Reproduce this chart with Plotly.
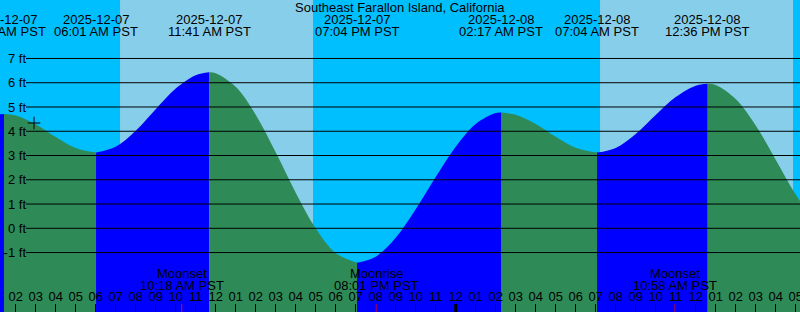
import plotly.graph_objects as go
from datetime import datetime, timedelta

station = "Southeast Farallon Island, California"

# Tide extremes (PST)
extreme_times = ["2025-12-07 01:25", "2025-12-07 06:01", "2025-12-07 11:41", "2025-12-07 19:04",
                 "2025-12-08 02:17", "2025-12-08 07:04", "2025-12-08 12:36"]
extreme_ft = [4.71, 3.12, 6.43, -1.42, 4.77, 3.12, 5.96]

# Hourly readings of the tide curve, 2025-12-07 01:00 ... 2025-12-08 18:00
sample_start = "2025-12-07 01:00"
sample_ft = [4.69, 4.65, 4.29, 3.76, 3.31, 3.12, 3.36, 4.02, 4.91, 5.76, 6.31,
             6.39, 5.83, 4.68, 3.13, 1.47, 0.00, -1.02, -1.42, -1.17, -0.39, 0.78,
             2.11, 3.36, 4.30, 4.75, 4.68, 4.30, 3.77, 3.32, 3.12, 3.31, 3.89,
             4.67, 5.41, 5.88, 5.91, 5.33, 4.24, 2.83, 1.39, 0.21]

# Sun and moon
sunrise_times = ["2025-12-07 07:13", "2025-12-08 07:13"]
sunset_times = ["2025-12-07 16:52", "2025-12-08 16:52"]
moon_events = ["Moonset", "Moonrise", "Moonset"]
moon_times = ["2025-12-07 10:18", "2025-12-07 20:01", "2025-12-08 10:58"]

# Current time marker
now_time = "2025-12-07 02:55"
now_ft = 4.34

# Axis settings
height_ticks = [-1, 0, 1, 2, 3, 4, 5, 6, 7]
view_start = "2025-12-07 01:12:54"
view_end = "2025-12-08 17:12:54"
first_hour_tick = "2025-12-07 02:00"
last_hour_tick = "2025-12-08 17:00"
y_range = [-3.45, 9.41]

NIGHT = "#00BFFF"
DAY = "#87CEEB"
RISING = "#0000FF"
FALLING = "#2E8B57"
FONT = "Liberation Sans, Arial, sans-serif"


def P(s):
    fmt = "%Y-%m-%d %H:%M" if s.count(":") == 1 else "%Y-%m-%d %H:%M:%S"
    return datetime.strptime(s, fmt)


ext_t = [P(s) for s in extreme_times]
t0 = P(sample_start)
samp_t = [t0 + timedelta(hours=i) for i in range(len(sample_ft))]

fig = go.Figure()

# Build segments between extremes (plus head and tail)
bounds = [samp_t[0]] + ext_t + [samp_t[-1]]


def value_at_bound(i):
    if i == 0:
        return sample_ft[0]
    if i == len(bounds) - 1:
        return sample_ft[-1]
    return extreme_ft[i - 1]


gap = timedelta(minutes=9)
for i in range(len(bounds) - 1):
    a, b = bounds[i], bounds[i + 1]
    va, vb = value_at_bound(i), value_at_bound(i + 1)
    xs, ys = [a], [va]
    for t, v in zip(samp_t, sample_ft):
        if a + gap < t < b - gap:
            xs.append(t)
            ys.append(v)
    xs.append(b)
    ys.append(vb)
    if i == 0:
        rising = True  # rising into the first high
    elif i == len(bounds) - 2:
        rising = sample_ft[-1] > extreme_ft[-1]
    else:
        rising = vb > va
    col = RISING if rising else FALLING
    fig.add_trace(go.Scatter(x=[a, b], y=[y_range[0] - 2] * 2, mode="lines",
                             line=dict(width=0), hoverinfo="skip", showlegend=False))
    fig.add_trace(go.Scatter(x=xs, y=ys, mode="lines", fill="tonexty", fillcolor=col,
                             line=dict(color=col, width=0, shape="spline", smoothing=1.0),
                             hoverinfo="skip", showlegend=False))

# current time marker
fig.add_trace(go.Scatter(x=[P(now_time)], y=[now_ft], mode="markers",
                         marker=dict(symbol="cross-thin", size=9, line=dict(color="black", width=1)),
                         showlegend=False, hoverinfo="skip"))

shapes = []
# daylight
for sr, ss in zip(sunrise_times, sunset_times):
    shapes.append(dict(type="rect", xref="x", yref="paper", x0=P(sr), x1=P(ss), y0=0, y1=1,
                       fillcolor=DAY, line=dict(width=0), layer="below"))
# height grid lines
for v in height_ticks:
    shapes.append(dict(type="line", xref="paper", yref="y", x0=26 / 800, x1=1, y0=v, y1=v,
                       line=dict(color="black", width=1), layer="above"))
# midnight tick
midnight = datetime(2025, 12, 8)
shapes.append(dict(type="line", xref="x", yref="paper", x0=midnight, x1=midnight,
                   y0=0, y1=8 / 312, line=dict(color="black", width=3), layer="above"))
# moon ticks
for mt in moon_times:
    shapes.append(dict(type="line", xref="x", yref="paper", x0=P(mt), x1=P(mt), y0=0, y1=8 / 312,
                       line=dict(color="red", width=1), layer="above"))

annotations = []
tf = dict(family=FONT, size=13, color="black")
for t in ext_t:
    annotations.append(dict(x=t, xref="x", y=1 - 19.5 / 312, yref="paper", text=t.strftime("%Y-%m-%d"),
                            showarrow=False, font=tf, xanchor="center", yanchor="middle"))
    annotations.append(dict(x=t, xref="x", y=1 - 31.5 / 312, yref="paper", text=t.strftime("%I:%M %p PST"),
                            showarrow=False, font=tf, xanchor="center", yanchor="middle"))
for name, mt in zip(moon_events, moon_times):
    t = P(mt)
    annotations.append(dict(x=t, xref="x", y=1 - 273.5 / 312, yref="paper", text=name,
                            showarrow=False, font=tf, xanchor="center", yanchor="middle"))
    annotations.append(dict(x=t, xref="x", y=1 - 285.5 / 312, yref="paper", text=t.strftime("%I:%M %p PST"),
                            showarrow=False, font=tf, xanchor="center", yanchor="middle"))
annotations.append(dict(x=0.5, xref="paper", y=1 - 7.5 / 312, yref="paper", text=station,
                        showarrow=False, font=tf, xanchor="center", yanchor="middle"))

tick_t = []
t = P(first_hour_tick)
while t <= P(last_hour_tick):
    tick_t.append(t)
    t += timedelta(hours=1)

fig.update_layout(
    width=800, height=312, margin=dict(l=0, r=0, t=0, b=0),
    paper_bgcolor=NIGHT, plot_bgcolor=NIGHT,
    font=dict(family=FONT, size=13, color="black"),
    shapes=shapes, annotations=annotations, showlegend=False,
    xaxis=dict(type="date", range=[P(view_start), P(view_end)], domain=[0, 1],
               tickvals=tick_t, ticktext=[x.strftime("%I") for x in tick_t],
               ticks="inside", ticklen=8, tickcolor="black", tickwidth=1,
               ticklabelposition="inside", ticklabeloverflow="allow",
               tickfont=dict(family=FONT, size=13, color="black"),
               showgrid=False, zeroline=False, showline=False, automargin=False, fixedrange=True),
    yaxis=dict(range=y_range, anchor="free", position=26 / 800,
               tickvals=height_ticks, ticktext=[f"{v} ft" for v in height_ticks],
               ticks="", showgrid=False, zeroline=False, showline=False, automargin=False,
               tickfont=dict(family=FONT, size=13, color="black"), fixedrange=True),
)

fig.write_html("out.html")
